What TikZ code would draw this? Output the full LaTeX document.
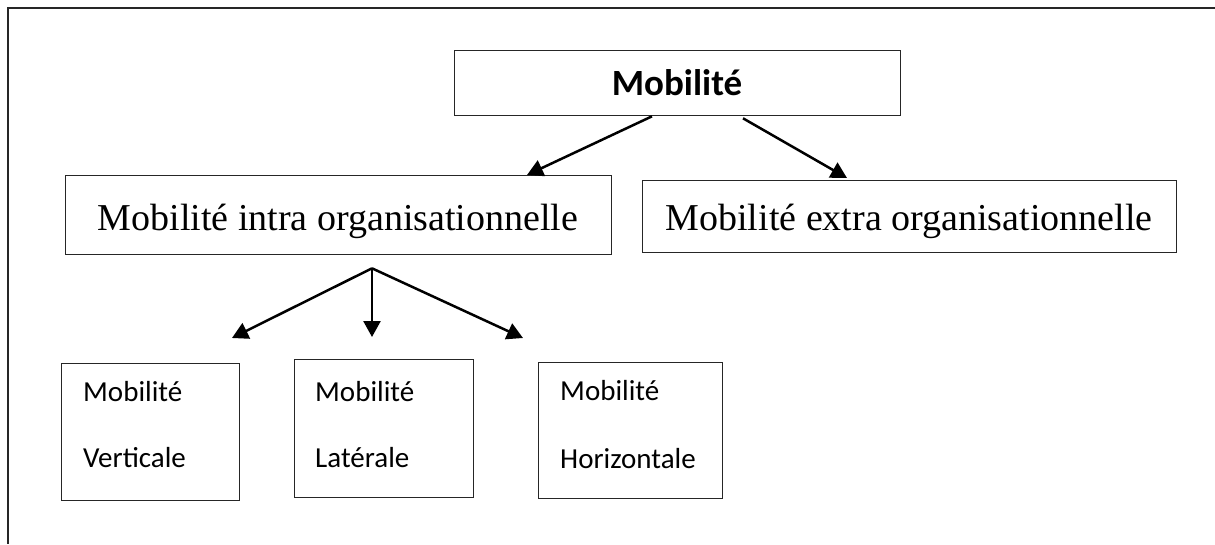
\documentclass[tikz,border=0pt]{standalone}
\usepackage{fontspec}
\setmainfont{Liberation Serif}
\newfontfamily\calibri{Carlito}
\usetikzlibrary{arrows.meta,calc}
\begin{document}
\begin{tikzpicture}[x=1pt,y=-1pt,
  box/.style={draw=black!85, line width=1.3pt, rectangle, inner sep=0pt, anchor=north west},
  link/.style={line width=2.5pt, -{Triangle[length=16pt,width=17pt]}},
  serif/.style={font=\fontsize{38}{44}\selectfont, inner sep=0pt, anchor=base},
  small/.style={font=\calibri\fontsize{29}{34}\selectfont, inner sep=0pt, anchor=base west},
  head/.style={font=\calibri\bfseries\fontsize{37}{44}\selectfont, inner sep=0pt, anchor=base}]
\useasboundingbox (0,0) rectangle (1215,544);
% page frame: top and left rules
\draw[line width=2pt, black!85] (1215,7.5) -- (7.5,7.5) -- (7.5,544);

% boxes
\node[box, minimum width=446pt, minimum height=65pt] (top) at (454,50) {};
\node[box, minimum width=546pt, minimum height=79pt] (intra) at (65,175) {};
\node[box, minimum width=534pt, minimum height=72pt] (extra) at (642,180) {};
\node[box, minimum width=178pt, minimum height=137pt] (vert) at (61,363) {};
\node[box, minimum width=179pt, minimum height=138pt] (lat) at (294,359) {};
\node[box, minimum width=184pt, minimum height=136pt] (horiz) at (538,362) {};

% labels
\node[head] (toplbl) at (677,95) {Mobilité};
\node[serif] (intralbl) at (338,230) {Mobilité intra organisationnelle};
\node[serif] (extralbl) at (909,230) {Mobilité extra organisationnelle};
\node[small] (vert1) at (83,401) {Mobilité};
\node[small] (vert2) at (83,467) {Verticale};
\node[small] (lat1) at (315,401) {Mobilité};
\node[small] (lat2) at (315,467) {Latérale};
\node[small] (horiz1) at (560,400) {Mobilité};
\node[small] (horiz2) at (560,468) {Horizontale};

% connectors
\draw[link] ($(top.south west)+(198,0)$) -- ($(intra.north west)+(462,0)$);
\draw[link] ($(top.south west)+(289,2)$) -- ($(extra.north west)+(205,-2)$);

\coordinate (fork) at ($(intra.south west)+(307,13)$);
\coordinate (vend) at ($(vert.north west)+(171,-25)$);
\coordinate (lend) at ($(lat.north west)+(78,-22)$);
\coordinate (hend) at ($(horiz.north west)+(-15,-24)$);
\draw[link] (fork) -- (vend);
\draw[link] (fork) -- (lend);
\draw[link] (fork) -- (hend);
\end{tikzpicture}
\end{document}
